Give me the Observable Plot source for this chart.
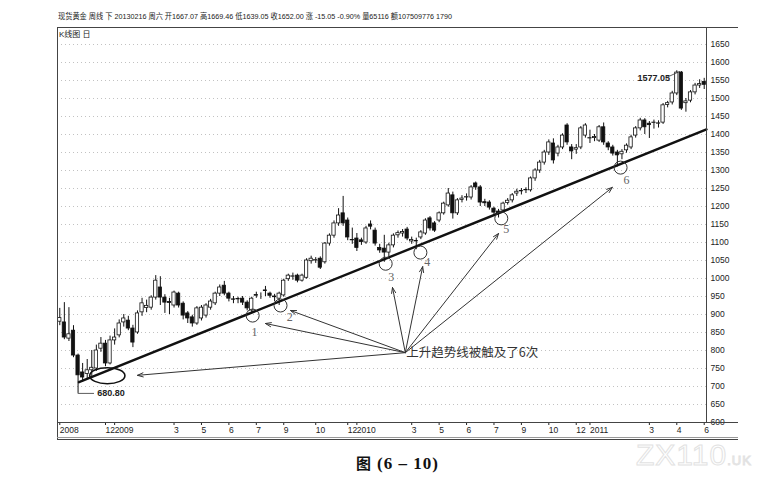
<!DOCTYPE html>
<html>
<head>
<meta charset="utf-8">
<script src="https://cdn.jsdelivr.net/npm/d3@7"></script>
<script src="https://cdn.jsdelivr.net/npm/@observablehq/plot@0.6"></script>
<style>
  body { margin: 0; background: #fff; }
  #wrap { position: relative; width: 771px; height: 479px; overflow: hidden;
          font-family: "Liberation Sans", "Noto Sans CJK SC", sans-serif; color: #222; }
  #head { position: absolute; left: 58px; top: 10px; font-size: 8px; white-space: nowrap;
          transform: scaleX(0.9); transform-origin: 0 0; }
  #kline { position: absolute; left: 59px; top: 28px; font-size: 8px; white-space: nowrap; }
  #chart { position: absolute; left: 0; top: 26px; }
  .ln { position: absolute; background: #444; }
  #cap { position: absolute; left: 356px; top: 452px; white-space: nowrap; font-weight: bold; color: #111; }
  #cap .zh { font-family: "Noto Sans CJK SC", sans-serif; font-size: 15px; }
  #cap .num { font-family: "Liberation Serif", serif; font-size: 17px; margin-left: 6px; letter-spacing: 1px; }
  #wm { position: absolute; left: 636px; top: 438px; font-family: "Liberation Sans", sans-serif;
        font-size: 30px; color: transparent; -webkit-text-stroke: 1px #e2e2e2; letter-spacing: 1px; }
  #wm small { font-size: 13px; }
</style>
</head>
<body>
<div id="wrap">
  <div id="head">现货黄金 周线 下 20130216 周六 开1667.07 高1669.46 低1639.05 收1652.00 涨 -15.05 -0.90% 量65116 额107509776 1790</div>
  <div id="kline">K线图 日</div>
  <div id="chart"></div>
  <div class="ln" style="left:57px;top:27px;width:681px;height:1px"></div>
  <div class="ln" style="left:57px;top:27px;width:1px;height:413px"></div>
  <div class="ln" style="left:706px;top:27px;width:1px;height:396px"></div>
  <div class="ln" style="left:57px;top:422px;width:681px;height:1px"></div>
  <div class="ln" style="left:57px;top:437px;width:681px;height:1px;background:#999"></div>
  <div class="ln" style="left:57px;top:439px;width:681px;height:1px"></div>
  <div id="cap"><span class="zh">图</span><span class="num">(6 – 10)</span></div>
  <div id="wm">ZX110<small>.UK</small></div>
</div>
<script>
// 周K线，从左到右每根一条（开/高/低/收）
const open = [880,878,833,855,786,739,735,745,750,805,819,764,828,842,878,883,861,850,906,918,
  919,947,975,947,935,925,958,930,903,892,875,889,897,919,931,958,980,958,942,943,
  944,933,911,952,953,965,958,950,944,953,998,1005,1008,994,1002,1048,1050,1055,1045,1097,
  1119,1153,1181,1161,1107,1111,1106,1100,1150,1133,1085,1083,1072,1092,1120,1125,1136,1103,1103,1114,
  1125,1167,1153,1161,1181,1203,1231,1181,1218,1225,1225,1264,1253,1212,1211,1194,1186,1189,1210,1217,
  1236,1242,1245,1245,1278,1300,1322,1350,1375,1347,1364,1425,1364,1358,1364,1397,1389,1390,1383,1420,
  1375,1364,1350,1345,1356,1364,1397,1417,1439,1430,1432,1430,1433,1482,1489,1514,1572,1487,1494,1517,
  1536,1546];
const high = [917,933,919,869,790,764,775,800,815,836,828,840,860,885,900,895,870,910,945,940,
  952,1008,1005,955,945,965,962,935,908,898,922,925,930,942,962,982,992,962,950,948,
  950,938,948,962,960,978,962,956,962,998,1012,1015,1012,1012,1055,1062,1058,1060,1100,1124,
  1160,1194,1228,1168,1140,1125,1112,1145,1160,1140,1095,1120,1098,1124,1132,1136,1142,1115,1112,1133,
  1166,1172,1158,1185,1212,1250,1240,1222,1230,1235,1258,1268,1258,1220,1216,1198,1192,1212,1222,1236,
  1248,1250,1252,1282,1305,1328,1356,1385,1388,1370,1402,1430,1372,1372,1422,1430,1412,1400,1425,1432,
  1380,1370,1356,1358,1374,1398,1422,1445,1444,1436,1440,1438,1486,1492,1520,1577.05,1575,1500,1522,1542,
  1552,1556];
const low = [869,830,825,780,680.8,712,720,728,742,795,755,760,815,835,865,855,808,845,895,905,
  912,940,925,903,900,918,918,885,875,865,870,882,890,912,925,950,952,935,930,930,
  925,910,903,945,942,950,945,935,925,948,992,995,988,990,998,1040,1042,1025,1040,1090,
  1112,1145,1145,1105,1095,1075,1092,1095,1135,1090,1070,1045,1060,1085,1112,1115,1105,1095,1080,1108,
  1120,1132,1128,1155,1176,1198,1165,1175,1210,1215,1218,1245,1200,1200,1190,1175,1168,1183,1204,1210,
  1228,1232,1236,1240,1270,1292,1315,1342,1318,1338,1358,1370,1330,1345,1358,1390,1375,1380,1378,1370,
  1355,1340,1310,1330,1348,1358,1390,1410,1400,1389,1415,1418,1428,1474,1482,1508,1467,1462,1488,1510,
  1528,1525];
const close = [890,836,845,786,731,725,745,752,800,819,764,828,836,875,889,861,822,903,931,924,
  947,994,947,933,932,961,925,897,889,875,917,919,925,936,958,975,958,944,941,942,
  933,917,944,954,953,967,952,948,958,994,1008,1006,994,1008,1050,1055,1051,1030,1097,1119,
  1153,1175,1153,1114,1106,1085,1101,1139,1144,1097,1078,1072,1092,1119,1126,1129,1111,1107,1104,1128,
  1161,1139,1133,1181,1208,1236,1181,1217,1222,1226,1253,1253,1211,1209,1197,1183,1181,1208,1216,1231,
  1241,1243,1246,1278,1300,1322,1350,1378,1328,1364,1397,1378,1353,1362,1417,1425,1390,1393,1420,1378,
  1364,1347,1342,1352,1369,1392,1417,1439,1420,1426,1433,1431,1481,1487,1514,1572,1472,1492,1517,1536,
  1540,1538];

// 横轴刻度（K线序号）与标签，纵轴刻度
const xTickIdx = [0, 10, 12, 25, 31, 37, 43, 49, 56, 63, 65, 77, 83, 89, 95, 101, 107, 113, 116, 129, 135, 141];
const xTickLabels = ["2008", "12", "2009", "3", "5", "6", "7", "9", "10", "12", "2010",
  "3", "5", "6", "7", "9", "10", "12", "2011", "3", "4", "6"];
const yTicks = [600, 650, 700, 750, 800, 850, 900, 950, 1000, 1050, 1100, 1150,
  1200, 1250, 1300, 1350, 1400, 1450, 1500, 1550, 1600, 1650];

// 上升趋势线两端
const trendIdx = [4.2, 141.5];
const trendPrice = [712, 1414];

// 6次触及点、编号、箭头
const touchIdx = [42.2, 48.3, 71.3, 78.9, 96.6, 122.7];
const touchPrice = [897, 925, 1041, 1072, 1167, 1308];
const touchLabelIdx = [42.6, 50.3, 72.5, 80.4, 97.7, 124];
const touchLabelPrice = [850, 892, 1004, 1046, 1136, 1272];
const touchLabels = ["1", "2", "3", "4", "5", "6"];
const arrowTipIdx = [17, 45, 50.5, 72.8, 79.4, 96, 120.9];
const arrowTipPrice = [731, 875, 911, 975, 1033, 1125, 1253];
const noteIdx = 75.6, notePrice = 794;
const noteText = "上升趋势线被触及了6次";

// 低点椭圆与标注
const lowRing = {i: 10.4, p: 730};
const lowMark = {i: 4, p: 680.8, labelIdx: 8.2, text: "680.80"};
const highMark = {i: 135.6, p: 1577.05, labelIdx: 126.4, labelP: 1558, text: "1577.05"};

const bars = open.map((o, i) => ({i, o, h: high[i], l: low[i], c: close[i]}));
const trend = trendIdx.map((x, k) => ({x, y: trendPrice[k]}));
const touches = touchIdx.map((x, k) => ({x, y: touchPrice[k], lx: touchLabelIdx[k], ly: touchLabelPrice[k], t: touchLabels[k]}));
const arrows = arrowTipIdx.map((x, k) => ({x, y: arrowTipPrice[k]}));
const xLabel = new Map(xTickIdx.map((d, k) => [d, xTickLabels[k]]));

// 椭圆符号（宽是高的两倍）
const ellipse = {
  draw(ctx, size) {
    const r = Math.sqrt(size / Math.PI), rx = 2.2 * r, ry = r, k = 0.5523;
    ctx.moveTo(rx, 0);
    ctx.bezierCurveTo(rx, ry * k, rx * k, ry, 0, ry);
    ctx.bezierCurveTo(-rx * k, ry, -rx, ry * k, -rx, 0);
    ctx.bezierCurveTo(-rx, -ry * k, -rx * k, -ry, 0, -ry);
    ctx.bezierCurveTo(rx * k, -ry, rx, -ry * k, rx, 0);
    ctx.closePath();
  }
};

const chart = Plot.plot({
  width: 771,
  height: 418,
  marginLeft: 57,
  marginRight: 65,
  marginTop: 18,
  marginBottom: 22,
  style: {fontFamily: "Liberation Sans, Noto Sans CJK SC, sans-serif", fontSize: "8.5px", background: "transparent", color: "#222"},
  x: {type: "linear", domain: [-0.5, 141.5]},
  y: {domain: [600, 1650]},
  marks: [
    Plot.gridY(yTicks, {stroke: "#999", strokeOpacity: 0.6, strokeDasharray: "1,3"}),
    Plot.axisY(yTicks, {anchor: "right", tickSize: 0, tickPadding: 4, fontSize: 8.5, label: null,
      tickFormat: d => String(d)}),
    Plot.axisX(xTickIdx, {anchor: "bottom", tickSize: 3, tickPadding: 1, textAnchor: "start", dx: 0,
      fontSize: 8.5, label: null, tickFormat: d => xLabel.get(d)}),

    // K线
    Plot.ruleX(bars, {x: "i", y1: "l", y2: "h", stroke: "#111", strokeWidth: 1}),
    Plot.rect(bars, {filter: d => d.c >= d.o, x1: d => d.i - 0.36, x2: d => d.i + 0.36,
      y1: "o", y2: "c", fill: "#fff", stroke: "#111", strokeWidth: 0.8}),
    Plot.rect(bars, {filter: d => d.c < d.o, x1: d => d.i - 0.36, x2: d => d.i + 0.36,
      y1: "c", y2: "o", fill: "#111", stroke: "#111", strokeWidth: 0.8}),

    // 趋势线
    Plot.line(trend, {x: "x", y: "y", stroke: "#111", strokeWidth: 2.4}),

    // 低点
    Plot.dot([lowRing], {x: "i", y: "p", r: 8, symbol: ellipse, fill: "none", stroke: "#111", strokeWidth: 1.6}),
    Plot.line([{x: lowMark.i, y: lowMark.p}, {x: lowMark.labelIdx - 0.8, y: lowMark.p}],
      {x: "x", y: "y", stroke: "#333", strokeWidth: 0.8}),
    Plot.text([lowMark], {x: "labelIdx", y: "p", text: "text", textAnchor: "start", fontSize: 9, fontWeight: "bold", fill: "#222"}),

    // 高点
    Plot.line([{x: highMark.labelIdx + 6.3, y: highMark.labelP}, {x: highMark.i, y: highMark.p - 2}],
      {x: "x", y: "y", stroke: "#333", strokeWidth: 0.8}),
    Plot.text([highMark], {x: "labelIdx", y: "labelP", text: "text", textAnchor: "start", fontSize: 9, fontWeight: "bold", fill: "#222"}),

    // 触及点
    Plot.dot(touches, {x: "x", y: "y", r: 6.5, fill: "none", stroke: "#333", strokeWidth: 1}),
    Plot.text(touches, {x: "lx", y: "ly", text: "t", fontFamily: "Liberation Serif, serif", fontSize: 12, fill: "#666"}),

    // 箭头与说明
    Plot.arrow(arrows, {x1: () => noteIdx, y1: () => notePrice, x2: "x", y2: "y",
      stroke: "#333", strokeWidth: 1, headLength: 9, headAngle: 40}),
    Plot.text([noteText], {x: () => noteIdx, y: () => notePrice, text: d => d, textAnchor: "start", dx: 1,
      fontFamily: "Noto Sans CJK SC, sans-serif", fontSize: 12.5, fill: "#333"})
  ]
});

document.getElementById("chart").append(chart);
</script>
</body>
</html>
